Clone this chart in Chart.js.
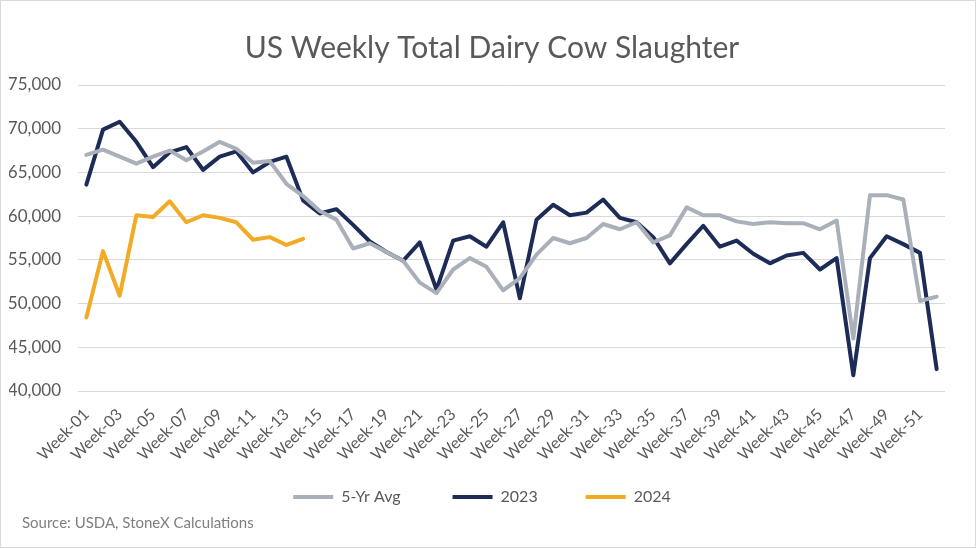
<!DOCTYPE html>
<html lang="en">
<head>
  <meta charset="utf-8" />
  <title>US Weekly Total Dairy Cow Slaughter</title>
  <script src="https://cdn.jsdelivr.net/npm/chart.js"></script>
  <style>
    html, body {
      margin: 0;
      padding: 0;
      background: #fff;
    }
    #chart-container {
      width: 976px;
      height: 548px;
      box-sizing: border-box;
      border: 1px solid #d9d9d9;
    }
  </style>
</head>
<body>
  <div id="chart-container">
    <canvas id="slaughterChart"></canvas>
  </div>

  <script>
    // week labels Week-01 .. Week-52
    const weeks = [
      "Week-01","Week-02","Week-03","Week-04","Week-05","Week-06","Week-07","Week-08","Week-09","Week-10",
      "Week-11","Week-12","Week-13","Week-14","Week-15","Week-16","Week-17","Week-18","Week-19","Week-20",
      "Week-21","Week-22","Week-23","Week-24","Week-25","Week-26","Week-27","Week-28","Week-29","Week-30",
      "Week-31","Week-32","Week-33","Week-34","Week-35","Week-36","Week-37","Week-38","Week-39","Week-40",
      "Week-41","Week-42","Week-43","Week-44","Week-45","Week-46","Week-47","Week-48","Week-49","Week-50",
      "Week-51","Week-52"
    ];

    // head
    const avg5yr = [
      67000, 67600, 66800, 66000, 66800, 67500, 66400, 67400, 68500, 67700,
      66100, 66300, 63700, 62300, 60600, 59600, 56300, 56900, 55900, 54900,
      52400, 51200, 53900, 55200, 54200, 51500, 52900, 55600, 57500, 56900,
      57500, 59100, 58500, 59300, 57000, 57800, 61000, 60100, 60100, 59400,
      59100, 59300, 59200, 59200, 58500, 59500, 46000, 62400, 62400, 61900,
      50300, 50800
    ];

    const y2023 = [
      63600, 69900, 70800, 68500, 65600, 67300, 67900, 65300, 66800, 67400,
      65000, 66200, 66800, 61800, 60300, 60800, 59000, 57100, 55900, 54900,
      57000, 51600, 57200, 57700, 56500, 59300, 50600, 59600, 61300, 60100,
      60400, 61900, 59800, 59300, 57600, 54600, 56800, 58900, 56500, 57200,
      55700, 54600, 55500, 55800, 53900, 55200, 41800, 55200, 57700, 56800,
      55800, 42500
    ];

    // 2024 only goes to week 14
    const y2024 = [
      48400, 56000, 50900, 60100, 59900, 61700, 59300, 60100, 59800, 59300,
      57300, 57600, 56700, 57400
    ];

    const yTicks = [40000, 45000, 50000, 55000, 60000, 65000, 70000, 75000];

    const sourceNote = "Source: USDA, StoneX Calculations";

    const fontFamily = "Lato, 'Open Sans', sans-serif";
    const textColor = "#595959";

    function lineSet(label, data, color) {
      return {
        label: label,
        data: data,
        borderColor: color,
        backgroundColor: color,
        borderWidth: 4,
        pointRadius: 0,
        pointHoverRadius: 0,
        pointStyle: "line",
        borderCapStyle: "round",
        borderJoinStyle: "round",
        tension: 0,
        fill: false
      };
    }

    // source line in the bottom-left corner + nudge title/legend to the page centre
    const extrasPlugin = {
      id: "extras",
      afterLayout(chart) {
        if (chart.titleBlock) {
          chart.titleBlock.left += 15;
          chart.titleBlock.right += 15;
        }
        if (chart.legend) {
          chart.legend.left += 5;
          chart.legend.right += 5;
        }
      },
      afterDraw(chart) {
        const c = chart.ctx;
        c.save();
        c.font = "15px " + fontFamily;
        c.fillStyle = "#7f7f7f";
        c.textAlign = "left";
        c.textBaseline = "middle";
        c.fillText(sourceNote, 21, chart.height - 24);
        c.restore();
      }
    };

    const ctx = document.getElementById("slaughterChart").getContext("2d");
    new Chart(ctx, {
      type: "line",
      data: {
        labels: weeks,
        datasets: [
          lineSet("5-Yr Avg", avg5yr, "#a9b0b9"),
          lineSet("2023", y2023, "#1d2b57"),
          lineSet("2024", y2024, "#f2ab27")
        ]
      },
      options: {
        responsive: true,
        maintainAspectRatio: false,
        animation: false,
        layout: {
          padding: { left: 8, right: 30, top: 14, bottom: 32 }
        },
        scales: {
          x: {
            offset: true,
            grid: { display: false },
            border: { display: false },
            afterFit: function (scale) {
              scale.height = 70;
            },
            ticks: {
              autoSkip: false,
              maxRotation: 45,
              minRotation: 45,
              color: textColor,
              font: { family: fontFamily, size: 16 },
              padding: 6,
              // only every other week gets a label
              callback: function (val, idx) {
                return idx % 2 === 0 ? weeks[idx] : "";
              }
            }
          },
          y: {
            min: yTicks[0],
            max: yTicks[yTicks.length - 1],
            border: { display: false },
            grid: { color: "#d9d9d9", lineWidth: 1, drawTicks: false },
            afterBuildTicks: function (scale) {
              scale.ticks = yTicks.map(v => ({ value: v }));
            },
            // fixed axis width so the plot starts where the original does
            afterFit: function (scale) {
              scale.width = 69;
            },
            ticks: {
              color: textColor,
              font: { family: fontFamily, size: 17 },
              padding: 17,
              callback: v => v.toLocaleString("en-US")
            }
          }
        },
        plugins: {
          title: {
            display: true,
            text: "US Weekly Total Dairy Cow Slaughter",
            color: textColor,
            font: { family: fontFamily, size: 30, weight: "normal" },
            padding: { top: 15, bottom: 19 }
          },
          legend: {
            display: true,
            position: "bottom",
            labels: {
              usePointStyle: true,
              pointStyleWidth: 40,
              boxHeight: 4,
              color: textColor,
              font: { family: fontFamily, size: 16 },
              padding: 28,
              // widen the gap after the first two entries
              generateLabels: function (chart) {
                const items = Chart.defaults.plugins.legend.labels.generateLabels(chart);
                const pad = ["\u2003\u2003", "\u2003\u2002", ""];
                items.forEach((it, i) => {
                  it.text = it.text + (pad[i] || "");
                });
                return items;
              }
            }
          },
          tooltip: { enabled: false }
        }
      },
      plugins: [extrasPlugin]
    });
  </script>
</body>
</html>
